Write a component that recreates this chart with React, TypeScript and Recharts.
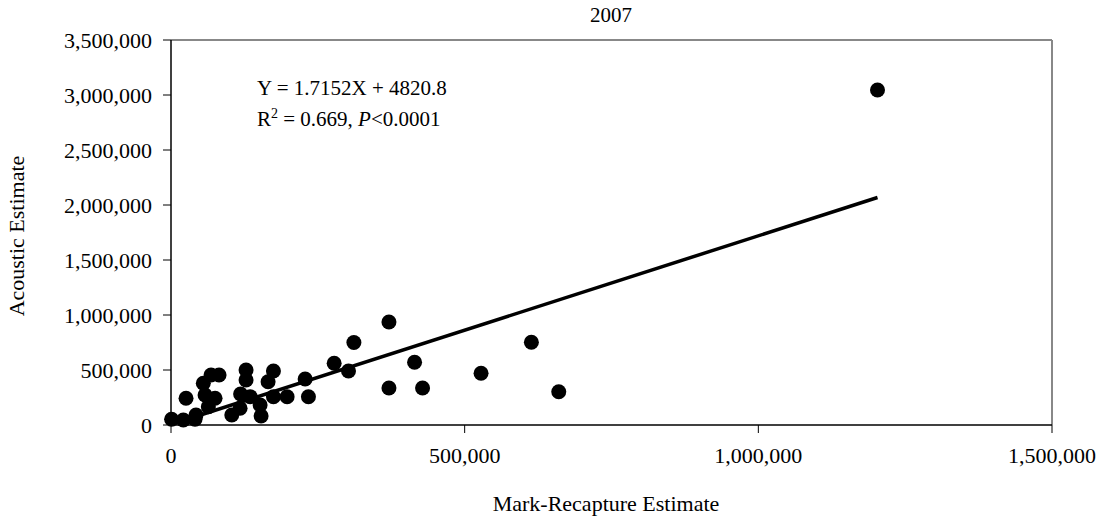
import { ScatterChart, Scatter, XAxis, YAxis, ReferenceLine } from "recharts";

// Mark-recapture (x) vs acoustic (y) estimates, 2007
const markRecapture = [
  1000, 21000, 40900, 42600, 25600, 55000, 68200, 81800, 58000, 75000,
  63600, 103500, 117600, 118500, 127800, 127800, 134700, 151700, 153400, 165300,
  174400, 174400, 197700, 228400, 234000, 277800, 302200, 311400, 371100, 371100,
  414700, 428300, 527900, 613600, 660200, 1202900,
];
const acoustic = [
  52000, 45000, 51800, 90000, 242700, 379000, 454500, 454500, 272700, 242700,
  166400, 90900, 151800, 281800, 500000, 409000, 257600, 181800, 81800, 393600,
  490900, 257300, 257300, 418200, 257300, 560900, 490900, 750000, 936400, 336400,
  570000, 336400, 470000, 751800, 302700, 3045000,
];
const xTicks = [0, 500000, 1000000, 1500000];
const yTicks = [0, 500000, 1000000, 1500000, 2000000, 2500000, 3000000, 3500000];
const slope = 1.7152;
const intercept = 4820.8;

const points = markRecapture.map((x, i) => ({ x, y: acoustic[i] }));
const maxX = Math.max(...markRecapture);

const font = "'Liberation Serif', 'Times New Roman', serif";
const fmt = (v: number) => v.toLocaleString("en-US");

const Dot = (props: { cx?: number; cy?: number }) => (
  <circle cx={props.cx} cy={props.cy} r={7.5} fill="#000" />
);

export default function App() {
  return (
    <div style={{ position: "absolute", left: 0, top: 0, width: 1103, height: 516, background: "#fff", fontFamily: font }}>
      <ScatterChart width={1103} height={516} margin={{ top: 40, right: 51, bottom: 0, left: 0 }}>
        <XAxis
          type="number"
          dataKey="x"
          domain={[0, 1500000]}
          ticks={xTicks}
          tickFormatter={fmt}
          height={91}
          tickSize={8}
          tickMargin={14}
          axisLine={{ stroke: "#000", strokeWidth: 1.5 }}
          tickLine={{ stroke: "#000" }}
          tick={{ fill: "#000", fontSize: 22, fontFamily: font }}
        />
        <YAxis
          type="number"
          dataKey="y"
          domain={[0, 3500000]}
          ticks={yTicks}
          tickFormatter={fmt}
          width={171}
          tickSize={8}
          tickMargin={11}
          axisLine={{ stroke: "#000", strokeWidth: 1.5 }}
          tickLine={{ stroke: "#000" }}
          tick={{ fill: "#000", fontSize: 22, fontFamily: font }}
        />
        <ReferenceLine y={3500000} stroke="#888" strokeWidth={2} />
        <ReferenceLine x={1500000} stroke="#888" strokeWidth={2} />
        <ReferenceLine
          segment={[
            { x: 0, y: intercept },
            { x: maxX, y: slope * maxX + intercept },
          ]}
          stroke="#000"
          strokeWidth={3.5}
        />
        <Scatter data={points} shape={Dot} isAnimationActive={false} />
      </ScatterChart>
      <div style={{ position: "absolute", left: 611, top: 3, transform: "translateX(-50%)", fontSize: 21 }}>2007</div>
      <div style={{ position: "absolute", left: 257, top: 73, fontSize: 21, lineHeight: "31px" }}>
        <div>Y = 1.7152X + 4820.8</div>
        <div>
          R<sup style={{ fontSize: 14, lineHeight: 0 }}>2</sup> = 0.669, <i>P</i>&lt;0.0001
        </div>
      </div>
      <div style={{ position: "absolute", left: 606, top: 491, transform: "translateX(-50%)", fontSize: 22, whiteSpace: "nowrap" }}>
        Mark-Recapture Estimate
      </div>
      <div
        style={{
          position: "absolute",
          left: 17,
          top: 236,
          transform: "translate(-50%, -50%) rotate(-90deg)",
          fontSize: 22,
          whiteSpace: "nowrap",
        }}
      >
        Acoustic Estimate
      </div>
    </div>
  );
}
